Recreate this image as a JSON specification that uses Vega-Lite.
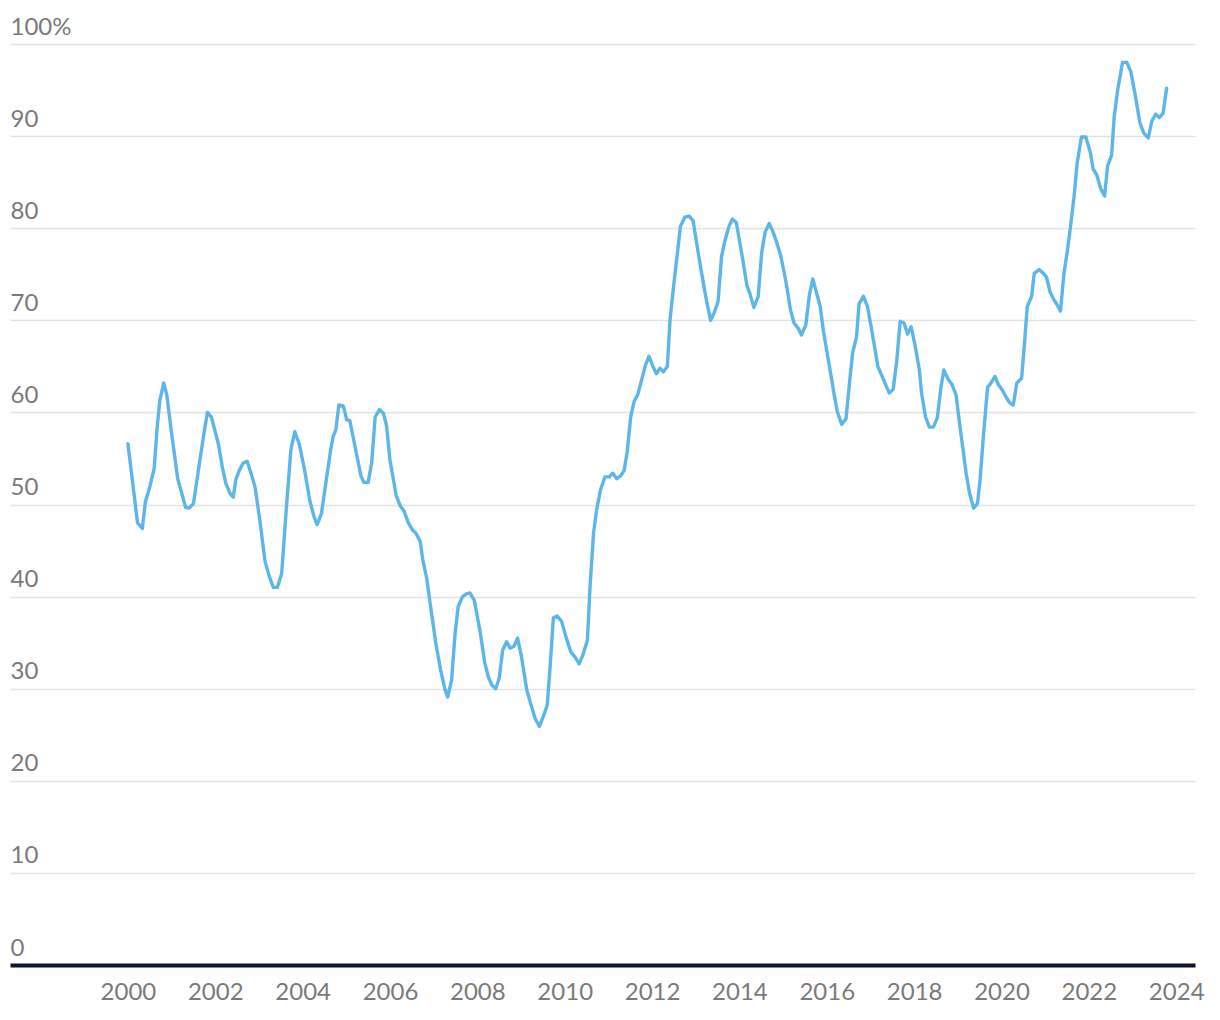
{
  "$schema": "https://vega.github.io/schema/vega-lite/v6.json",
  "width": 1185,
  "height": 921,
  "autosize": {"type": "none"},
  "padding": {"left": 10, "top": 44, "right": 25, "bottom": 55},
  "background": "white",
  "config": {"view": {"stroke": null}},
  "data": {"values": [
    {"year": 2000.00, "share": 56.6}, {"year": 2000.22, "share": 48.0}, {"year": 2000.33, "share": 47.4}, {"year": 2000.40, "share": 50.3},
    {"year": 2000.50, "share": 51.9}, {"year": 2000.60, "share": 53.9}, {"year": 2000.67, "share": 58.4}, {"year": 2000.73, "share": 61.3},
    {"year": 2000.82, "share": 63.2}, {"year": 2000.89, "share": 61.9}, {"year": 2001.00, "share": 57.7}, {"year": 2001.14, "share": 52.8},
    {"year": 2001.21, "share": 51.6}, {"year": 2001.32, "share": 49.7}, {"year": 2001.40, "share": 49.6}, {"year": 2001.50, "share": 50.1},
    {"year": 2001.57, "share": 52.3}, {"year": 2001.66, "share": 55.2}, {"year": 2001.74, "share": 57.7}, {"year": 2001.82, "share": 60.0},
    {"year": 2001.91, "share": 59.5}, {"year": 2002.07, "share": 56.6}, {"year": 2002.16, "share": 54.1}, {"year": 2002.24, "share": 52.3},
    {"year": 2002.34, "share": 51.2}, {"year": 2002.41, "share": 50.8}, {"year": 2002.47, "share": 52.7}, {"year": 2002.55, "share": 53.7},
    {"year": 2002.64, "share": 54.5}, {"year": 2002.73, "share": 54.7}, {"year": 2002.83, "share": 53.2}, {"year": 2002.91, "share": 51.9},
    {"year": 2003.02, "share": 48.3}, {"year": 2003.14, "share": 43.8}, {"year": 2003.25, "share": 42.0}, {"year": 2003.33, "share": 41.0},
    {"year": 2003.42, "share": 41.0}, {"year": 2003.52, "share": 42.5}, {"year": 2003.63, "share": 49.8}, {"year": 2003.73, "share": 55.9},
    {"year": 2003.82, "share": 57.9}, {"year": 2003.92, "share": 56.6}, {"year": 2004.03, "share": 54.1}, {"year": 2004.17, "share": 50.3},
    {"year": 2004.26, "share": 48.7}, {"year": 2004.33, "share": 47.8}, {"year": 2004.43, "share": 49.0}, {"year": 2004.53, "share": 52.3},
    {"year": 2004.64, "share": 55.9}, {"year": 2004.70, "share": 57.4}, {"year": 2004.76, "share": 58.1}, {"year": 2004.83, "share": 60.8},
    {"year": 2004.93, "share": 60.7}, {"year": 2005.01, "share": 59.2}, {"year": 2005.08, "share": 59.1}, {"year": 2005.17, "share": 57.0},
    {"year": 2005.33, "share": 53.2}, {"year": 2005.40, "share": 52.4}, {"year": 2005.50, "share": 52.4}, {"year": 2005.58, "share": 54.5},
    {"year": 2005.66, "share": 59.5}, {"year": 2005.76, "share": 60.3}, {"year": 2005.85, "share": 59.9}, {"year": 2005.92, "share": 58.6},
    {"year": 2006.00, "share": 54.8}, {"year": 2006.14, "share": 51.0}, {"year": 2006.24, "share": 49.8}, {"year": 2006.32, "share": 49.3},
    {"year": 2006.42, "share": 48.0}, {"year": 2006.52, "share": 47.2}, {"year": 2006.59, "share": 46.9}, {"year": 2006.69, "share": 46.0},
    {"year": 2006.75, "share": 44.0}, {"year": 2006.84, "share": 42.0}, {"year": 2006.93, "share": 38.9}, {"year": 2007.05, "share": 34.9},
    {"year": 2007.16, "share": 32.0}, {"year": 2007.26, "share": 29.9}, {"year": 2007.32, "share": 29.1}, {"year": 2007.41, "share": 30.9},
    {"year": 2007.49, "share": 36.0}, {"year": 2007.56, "share": 38.9}, {"year": 2007.66, "share": 40.0}, {"year": 2007.75, "share": 40.3},
    {"year": 2007.83, "share": 40.4}, {"year": 2007.93, "share": 39.6}, {"year": 2008.00, "share": 37.8}, {"year": 2008.07, "share": 36.0},
    {"year": 2008.17, "share": 32.8}, {"year": 2008.25, "share": 31.3}, {"year": 2008.33, "share": 30.4}, {"year": 2008.42, "share": 30.0},
    {"year": 2008.50, "share": 31.1}, {"year": 2008.58, "share": 34.2}, {"year": 2008.67, "share": 35.1}, {"year": 2008.75, "share": 34.4},
    {"year": 2008.84, "share": 34.6}, {"year": 2008.92, "share": 35.5}, {"year": 2009.01, "share": 33.5}, {"year": 2009.13, "share": 29.9},
    {"year": 2009.22, "share": 28.4}, {"year": 2009.32, "share": 26.8}, {"year": 2009.42, "share": 25.9}, {"year": 2009.51, "share": 27.0},
    {"year": 2009.60, "share": 28.2}, {"year": 2009.66, "share": 32.0}, {"year": 2009.74, "share": 37.7}, {"year": 2009.83, "share": 37.9},
    {"year": 2009.93, "share": 37.3}, {"year": 2010.03, "share": 35.6}, {"year": 2010.14, "share": 34.0}, {"year": 2010.24, "share": 33.4},
    {"year": 2010.33, "share": 32.7}, {"year": 2010.42, "share": 33.7}, {"year": 2010.52, "share": 35.3}, {"year": 2010.58, "share": 41.1},
    {"year": 2010.66, "share": 46.9}, {"year": 2010.73, "share": 49.4}, {"year": 2010.82, "share": 51.6}, {"year": 2010.92, "share": 53.0},
    {"year": 2011.02, "share": 53.0}, {"year": 2011.10, "share": 53.4}, {"year": 2011.19, "share": 52.8}, {"year": 2011.28, "share": 53.1},
    {"year": 2011.36, "share": 53.7}, {"year": 2011.43, "share": 55.7}, {"year": 2011.51, "share": 59.5}, {"year": 2011.59, "share": 61.2},
    {"year": 2011.67, "share": 61.9}, {"year": 2011.76, "share": 63.5}, {"year": 2011.84, "share": 65.0}, {"year": 2011.93, "share": 66.1},
    {"year": 2012.01, "share": 65.1}, {"year": 2012.10, "share": 64.2}, {"year": 2012.18, "share": 64.8}, {"year": 2012.26, "share": 64.4},
    {"year": 2012.35, "share": 65.0}, {"year": 2012.41, "share": 70.0}, {"year": 2012.50, "share": 74.0}, {"year": 2012.58, "share": 77.3},
    {"year": 2012.65, "share": 80.2}, {"year": 2012.75, "share": 81.2}, {"year": 2012.85, "share": 81.3}, {"year": 2012.94, "share": 80.8},
    {"year": 2013.02, "share": 78.4}, {"year": 2013.11, "share": 75.8}, {"year": 2013.19, "share": 73.6}, {"year": 2013.26, "share": 71.8},
    {"year": 2013.34, "share": 70.0}, {"year": 2013.42, "share": 70.8}, {"year": 2013.51, "share": 72.0}, {"year": 2013.59, "share": 76.9},
    {"year": 2013.66, "share": 78.5}, {"year": 2013.76, "share": 80.2}, {"year": 2013.84, "share": 81.0}, {"year": 2013.93, "share": 80.6},
    {"year": 2014.01, "share": 78.4}, {"year": 2014.09, "share": 76.2}, {"year": 2014.17, "share": 73.8}, {"year": 2014.24, "share": 72.9},
    {"year": 2014.33, "share": 71.4}, {"year": 2014.43, "share": 72.6}, {"year": 2014.51, "share": 77.4}, {"year": 2014.59, "share": 79.6},
    {"year": 2014.68, "share": 80.5}, {"year": 2014.77, "share": 79.6}, {"year": 2014.85, "share": 78.5}, {"year": 2014.94, "share": 77.1},
    {"year": 2015.02, "share": 75.3}, {"year": 2015.09, "share": 73.5}, {"year": 2015.17, "share": 71.1}, {"year": 2015.25, "share": 69.7},
    {"year": 2015.35, "share": 69.1}, {"year": 2015.42, "share": 68.4}, {"year": 2015.52, "share": 69.5}, {"year": 2015.60, "share": 72.7},
    {"year": 2015.68, "share": 74.5}, {"year": 2015.77, "share": 72.9}, {"year": 2015.85, "share": 71.5}, {"year": 2015.92, "share": 68.9},
    {"year": 2016.01, "share": 66.4}, {"year": 2016.09, "share": 64.2}, {"year": 2016.17, "share": 61.9}, {"year": 2016.24, "share": 60.1},
    {"year": 2016.34, "share": 58.7}, {"year": 2016.44, "share": 59.3}, {"year": 2016.52, "share": 63.2}, {"year": 2016.59, "share": 66.4},
    {"year": 2016.68, "share": 68.2}, {"year": 2016.74, "share": 71.8}, {"year": 2016.84, "share": 72.6}, {"year": 2016.93, "share": 71.5},
    {"year": 2017.00, "share": 69.7}, {"year": 2017.08, "share": 67.5}, {"year": 2017.17, "share": 65.0}, {"year": 2017.24, "share": 64.2},
    {"year": 2017.33, "share": 63.2}, {"year": 2017.43, "share": 62.1}, {"year": 2017.52, "share": 62.5}, {"year": 2017.60, "share": 65.5},
    {"year": 2017.68, "share": 69.9}, {"year": 2017.77, "share": 69.7}, {"year": 2017.85, "share": 68.5}, {"year": 2017.93, "share": 69.3},
    {"year": 2018.02, "share": 67.3}, {"year": 2018.12, "share": 64.6}, {"year": 2018.17, "share": 62.1}, {"year": 2018.26, "share": 59.5},
    {"year": 2018.35, "share": 58.4}, {"year": 2018.44, "share": 58.4}, {"year": 2018.53, "share": 59.4}, {"year": 2018.61, "share": 62.6},
    {"year": 2018.68, "share": 64.6}, {"year": 2018.78, "share": 63.6}, {"year": 2018.87, "share": 63.0}, {"year": 2018.96, "share": 61.9},
    {"year": 2019.04, "share": 58.8}, {"year": 2019.11, "share": 56.3}, {"year": 2019.19, "share": 53.4}, {"year": 2019.27, "share": 51.2},
    {"year": 2019.36, "share": 49.6}, {"year": 2019.45, "share": 50.1}, {"year": 2019.51, "share": 52.7}, {"year": 2019.59, "share": 57.7},
    {"year": 2019.68, "share": 62.7}, {"year": 2019.76, "share": 63.2}, {"year": 2019.85, "share": 63.9}, {"year": 2019.93, "share": 63.0},
    {"year": 2020.02, "share": 62.4}, {"year": 2020.10, "share": 61.7}, {"year": 2020.18, "share": 61.1}, {"year": 2020.27, "share": 60.8},
    {"year": 2020.35, "share": 63.2}, {"year": 2020.46, "share": 63.7}, {"year": 2020.52, "share": 67.1}, {"year": 2020.59, "share": 71.5},
    {"year": 2020.69, "share": 72.6}, {"year": 2020.75, "share": 75.1}, {"year": 2020.86, "share": 75.5}, {"year": 2020.96, "share": 75.1},
    {"year": 2021.03, "share": 74.7}, {"year": 2021.11, "share": 73.1}, {"year": 2021.19, "share": 72.3}, {"year": 2021.26, "share": 71.8},
    {"year": 2021.35, "share": 71.0}, {"year": 2021.43, "share": 75.1}, {"year": 2021.51, "share": 77.6}, {"year": 2021.58, "share": 80.2},
    {"year": 2021.66, "share": 83.4}, {"year": 2021.73, "share": 87.0}, {"year": 2021.83, "share": 89.9}, {"year": 2021.93, "share": 89.9},
    {"year": 2022.03, "share": 88.3}, {"year": 2022.10, "share": 86.4}, {"year": 2022.18, "share": 85.8}, {"year": 2022.27, "share": 84.3},
    {"year": 2022.36, "share": 83.5}, {"year": 2022.43, "share": 86.8}, {"year": 2022.52, "share": 87.9}, {"year": 2022.58, "share": 92.1},
    {"year": 2022.66, "share": 95.0}, {"year": 2022.77, "share": 98.0}, {"year": 2022.87, "share": 98.0}, {"year": 2022.96, "share": 97.0},
    {"year": 2023.06, "share": 94.5}, {"year": 2023.17, "share": 91.4}, {"year": 2023.26, "share": 90.3}, {"year": 2023.36, "share": 89.8},
    {"year": 2023.44, "share": 91.6}, {"year": 2023.53, "share": 92.4}, {"year": 2023.61, "share": 92.0}, {"year": 2023.70, "share": 92.5},
    {"year": 2023.78, "share": 95.2}
  ]},
  "mark": {"type": "line", "color": "#5db5e8", "strokeWidth": 3.4, "strokeJoin": "round", "strokeCap": "round"},
  "encoding": {
    "x": {
      "field": "year", "type": "quantitative",
      "scale": {"domain": [1997.3, 2024.43], "nice": false, "zero": false},
      "axis": {
        "values": [2000, 2002, 2004, 2006, 2008, 2010, 2012, 2014, 2016, 2018, 2020, 2022, 2024],
        "format": "d", "title": null, "grid": false, "ticks": false,
        "domainColor": "#0c1533", "domainWidth": 4,
        "labelFont": "Lato", "labelFontSize": 24, "labelColor": "#7a7a7a", "labelPadding": 15,
        "labelFlush": false, "labelOverlap": false
      }
    },
    "y": {
      "field": "share", "type": "quantitative",
      "scale": {"domain": [0, 100], "nice": false},
      "axis": {
        "values": [0, 10, 20, 30, 40, 50, 60, 70, 80, 90, 100],
        "title": null, "domain": false, "ticks": false, "tickSize": 0,
        "gridColor": "#e3e3e3", "gridWidth": 1.5,
        "labelAlign": "left", "labelBaseline": "alphabetic", "labelPadding": 0, "labelOffset": -10,
        "labelExpr": "datum.value == 100 ? '100%' : datum.label",
        "labelFont": "Lato", "labelFontSize": 24, "labelColor": "#7a7a7a"
      }
    }
  }
}
